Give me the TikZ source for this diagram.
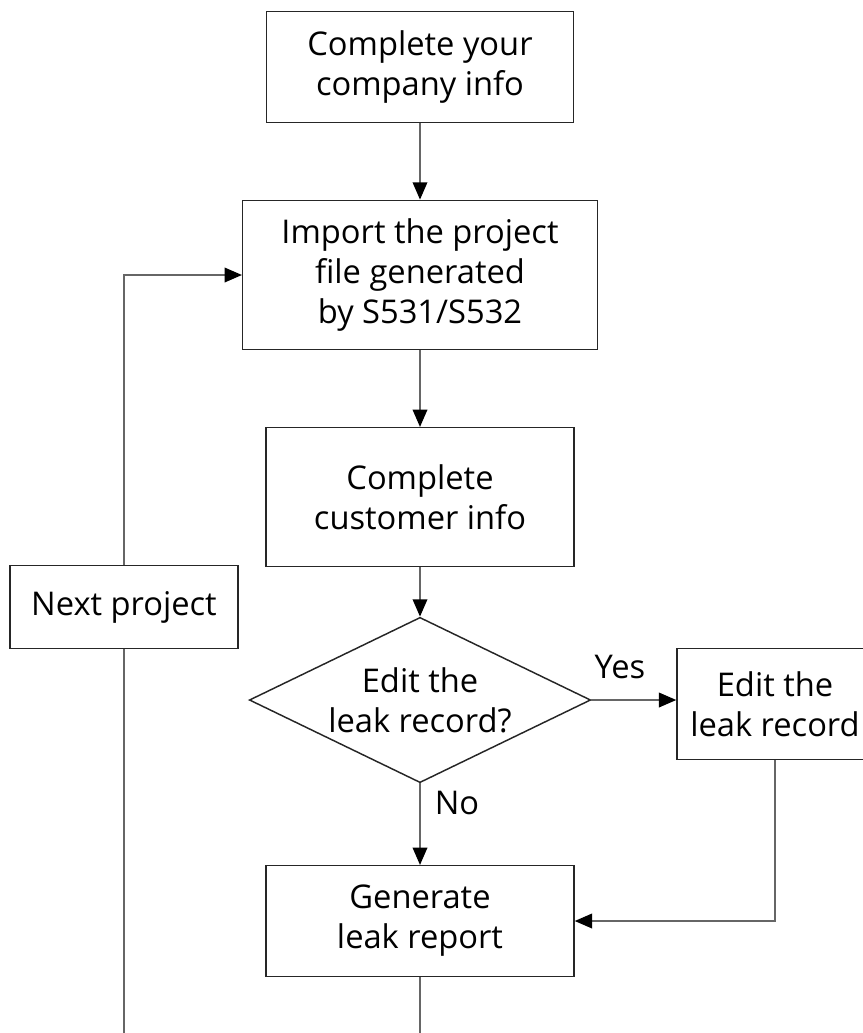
\documentclass[tikz,border=0pt]{standalone}
\usepackage{fontspec}
\setmainfont{Open Sans}
\usetikzlibrary{shapes.geometric,arrows.meta}
\begin{document}
\begin{tikzpicture}[x=0.75pt,y=-0.75pt,
    every node/.style={font=\fontsize{24.5}{30}\selectfont,align=center},
    stepbox/.style={draw=black!85,line width=1.1pt,inner sep=0pt},
    ask/.style={draw=black!85,line width=1.1pt,diamond,inner sep=0pt,
      shape aspect=2.07,minimum width=256pt,minimum height=124pt},
    link/.style={draw=black!60,line width=1.1pt},
    >={Triangle[length=13pt,width=11pt,black]}]
  \useasboundingbox (0,0) rectangle (863,1033);
  \clip (0,0) rectangle (863,1033);
  \draw
    (420,67) node[stepbox,minimum width=230pt,minimum height=83pt] (info){Complete your\\company info}
    (420,275) node[stepbox,minimum width=266pt,minimum height=112pt] (import){Import the project\\file generated\\by S531/S532}
    (420,497) node[stepbox,minimum width=231pt,minimum height=104pt] (customer){Complete\\customer info}
    (420,700) node[ask] (edit?){Edit the\\leak record?}
    (775,704) node[stepbox,minimum width=147pt,minimum height=83pt] (record){Edit the\\leak record}
    (420,921) node[stepbox,minimum width=231pt,minimum height=83pt] (report){Generate\\leak report}
    (124,607) node[stepbox,minimum width=171pt,minimum height=62pt] (next){Next project}
    (620,667) node (yes){Yes}
    (457,803) node (no){No};
  \coordinate (bottom) at (420,1050);
  \begin{scope}[link]
    \draw[->] (info) to (import);
    \draw[->] (import) to (customer);
    \draw[->] (customer) to (edit?);
    \draw[->] (edit?) to (report);
    \draw[->] (edit?.east) to (edit?.east -| record.west);
    \draw[->] (record.south) |- (report.east);
    \draw (report.south) -- (bottom) -| (next.south);
    \draw[->] (next.north) |- (import.west);
  \end{scope}
\end{tikzpicture}
\end{document}
